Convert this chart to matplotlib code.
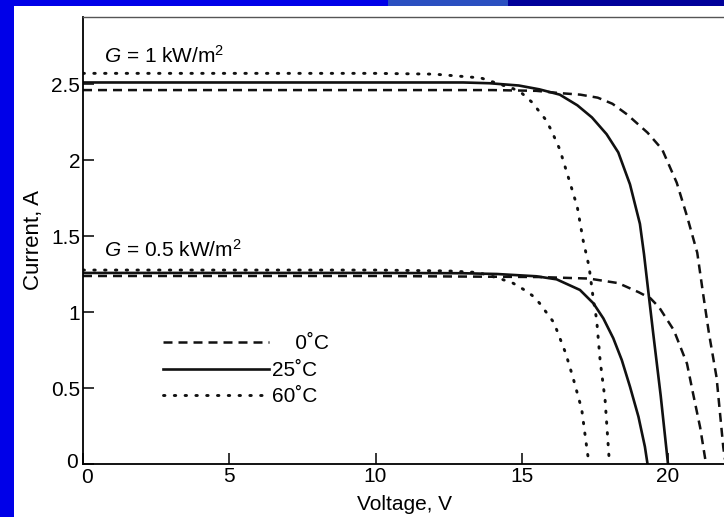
import matplotlib
matplotlib.use("Agg")
import matplotlib.pyplot as plt
import matplotlib.transforms as mtransforms
from matplotlib.patches import Rectangle

plt.rcParams['font.family'] = ['Liberation Sans', 'DejaVu Sans']
plt.rcParams['mathtext.fontset'] = 'custom'
plt.rcParams['mathtext.rm'] = 'Liberation Sans'
plt.rcParams['mathtext.it'] = 'Liberation Sans:italic'

# ---------------- data ----------------
# G = 1 kW/m2
v_1k_0 = [0, 10, 14, 15.5, 16.3, 17.0, 17.6, 18.1, 18.6, 19.3, 19.8, 20.3, 20.65, 21.0, 21.2, 21.4, 21.66, 21.89, 21.97]
i_1k_0 = [2.46, 2.46, 2.46, 2.455, 2.44, 2.43, 2.41, 2.37, 2.30, 2.18, 2.07, 1.85, 1.63, 1.39, 1.12, 0.86, 0.57, 0.11, 0.0]

v_1k_25 = [0, 10, 13, 13.9, 14.9, 15.6, 16.3, 16.9, 17.4, 17.9, 18.3, 18.7, 19.04, 19.18, 19.33, 19.5, 19.75, 20.0]
i_1k_25 = [2.51, 2.51, 2.51, 2.505, 2.49, 2.465, 2.43, 2.36, 2.28, 2.17, 2.05, 1.84, 1.58, 1.38, 1.13, 0.85, 0.45, 0.0]

v_1k_60 = [0, 10, 12, 13.6, 14.7, 15.0, 15.35, 15.8, 16.0, 16.3, 16.65, 16.9, 17.1, 17.3, 17.45, 17.56, 17.68, 17.85, 17.96, 18.0]
i_1k_60 = [2.57, 2.57, 2.565, 2.54, 2.47, 2.44, 2.38, 2.27, 2.20, 2.07, 1.85, 1.69, 1.47, 1.30, 1.08, 0.95, 0.68, 0.42, 0.11, 0.0]

# G = 0.5 kW/m2
v_05_0 = [0, 10, 15.6, 17.3, 18.3, 19.0, 19.4, 19.7, 20.2, 20.65, 20.85, 21.1, 21.3]
i_05_0 = [1.237, 1.237, 1.23, 1.22, 1.19, 1.13, 1.09, 1.03, 0.88, 0.66, 0.47, 0.24, 0.0]

v_05_25 = [0, 10, 13, 14.15, 15.5, 16.19, 16.99, 17.45, 17.79, 18.13, 18.42, 18.70, 18.99, 19.21, 19.3]
i_05_25 = [1.257, 1.257, 1.255, 1.25, 1.235, 1.215, 1.145, 1.057, 0.958, 0.827, 0.684, 0.509, 0.311, 0.114, 0.0]

v_05_60 = [0, 10, 12.5, 13.5, 14.25, 14.7, 15.05, 15.35, 15.6, 16.1, 16.5, 16.75, 17.05, 17.2, 17.3]
i_05_60 = [1.276, 1.276, 1.27, 1.26, 1.22, 1.19, 1.15, 1.11, 1.06, 0.93, 0.73, 0.57, 0.36, 0.14, 0.0]

temp_labels = ["\u2007\u20070\u02daC", "25\u02daC", "60\u02daC"]
x_ticks = [0, 5, 10, 15, 20]
y_ticks = [0, 0.5, 1, 1.5, 2, 2.5]
y_tick_labels = ["0", "0.5", "1", "1.5", "2", "2.5"]
g_labels = [r"$G$ = 1 kW/m$^2$", r"$G$ = 0.5 kW/m$^2$"]

# ---------------- figure ----------------
W, H = 724, 517
FS = 15
fig = plt.figure(figsize=(W / 100, H / 100), dpi=100)
fig.patch.set_facecolor('#0000e8')

# slide decoration in top band
fig.add_artist(Rectangle((388 / W, 0), 120 / W, 1, transform=fig.transFigure,
                         facecolor='#2a4fc0', edgecolor='none', zorder=-3))
fig.add_artist(Rectangle((508 / W, 0), 1, 1, transform=fig.transFigure,
                         facecolor='#00009a', edgecolor='none', zorder=-3))
# white scanned page
fig.add_artist(Rectangle((14 / W, 0), 1, (H - 6) / H, transform=fig.transFigure,
                         facecolor='white', edgecolor='none', zorder=-2))

left = 83 / W
bottom = (H - 464) / H
top = (H - 17) / H
xmax = 22.0
px_per_v = 29.25
ax = fig.add_axes([left, bottom, xmax * px_per_v / W, top - bottom])
ax.set_facecolor('none')

col = '#111111'
dash = dict(ls=(0, (3.6, 2.4)), lw=1.8, color=col)
solid = dict(ls='-', lw=1.9, color=col)
dot = dict(ls=(0, (0.5, 3.2)), lw=2.1, color=col, dash_capstyle='round')

l0, = ax.plot(v_1k_0, i_1k_0, **dash)
l25, = ax.plot(v_1k_25, i_1k_25, **solid)
l60, = ax.plot(v_1k_60, i_1k_60, **dot)
ax.plot(v_05_0, i_05_0, **dash)
ax.plot(v_05_25, i_05_25, **solid)
ax.plot(v_05_60, i_05_60, **dot)

ax.set_xlim(0, xmax)
ax.set_ylim(0, (464 - 17) / 152)

ax.set_xticks(x_ticks)
ax.set_xticklabels([str(t) for t in x_ticks])
ax.set_yticks(y_ticks)
ax.set_yticklabels(y_tick_labels)
ax.tick_params(direction='in', length=8, width=1.1, labelsize=FS, colors='black', pad=2)

# nudge the two "0" labels apart as in the original
fig.canvas.draw()
xl0 = ax.get_xticklabels()[0]
xl0.set_transform(xl0.get_transform() + mtransforms.ScaledTranslation(4 / 100, -1 / 100, fig.dpi_scale_trans))
yl0 = ax.get_yticklabels()[0]
yl0.set_transform(yl0.get_transform() + mtransforms.ScaledTranslation(-2 / 100, 4 / 100, fig.dpi_scale_trans))

for s in ['left', 'bottom']:
    ax.spines[s].set_linewidth(1.3)
    ax.spines[s].set_color('black')
ax.spines['top'].set_color('#555555')
ax.spines['top'].set_linewidth(1.0)
ax.spines['right'].set_visible(False)

ax.set_xlabel("Voltage, V", fontsize=FS, labelpad=6)
ax.set_ylabel("Current, A", fontsize=FS + 1, labelpad=5)

ax.text(0.72, 2.64, g_labels[0], fontsize=FS, ha='left', va='baseline')
ax.text(0.72, 1.36, g_labels[1], fontsize=FS, ha='left', va='baseline')

leg = ax.legend([l0, l25, l60], temp_labels, loc='upper left',
                bbox_to_anchor=(0.124, 0.29), frameon=False, fontsize=FS,
                handlelength=5.1, handletextpad=0.15, labelspacing=0.36,
                borderaxespad=0, borderpad=0)

fig.savefig("out.png", dpi=100, facecolor=fig.get_facecolor())
